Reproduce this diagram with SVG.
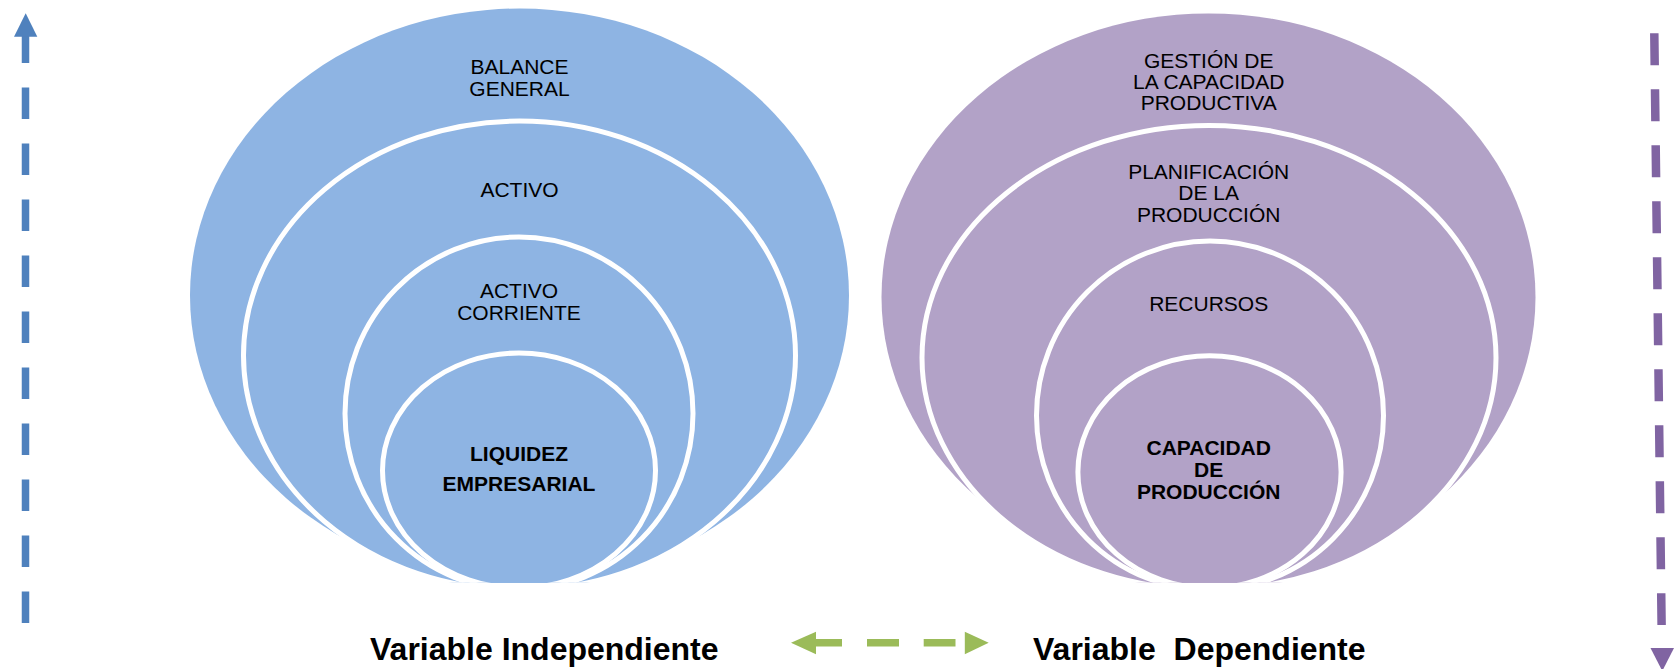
<svg xmlns="http://www.w3.org/2000/svg" width="1674" height="669" viewBox="0 0 1674 669">
<defs>
  <clipPath id="cut"><rect x="0" y="0" width="1674" height="582.7"/></clipPath>
</defs>
<style>
.t{font-family:"Liberation Sans",Arial,sans-serif;font-size:21px;fill:#000;text-anchor:middle}
.b{font-weight:bold}
.lbl{font-family:"Liberation Sans",Arial,sans-serif;font-size:32px;font-weight:bold;fill:#000;white-space:pre}
.blue{fill:#8EB4E3}
.purp{fill:#B2A2C7}
.inner{stroke:#FFFFFF;stroke-width:5}
</style>
<rect width="1674" height="669" fill="#FFFFFF"/>
<g id="independiente">
  <g id="balance-general">
    <ellipse class="blue" cx="519.5" cy="295.5" rx="329.5" ry="287" clip-path="url(#cut)"/>
    <text class="t" x="519.5" y="73.7">BALANCE</text>
    <text class="t" x="519.5" y="95.5">GENERAL</text>
  </g>
  <g id="activo">
    <ellipse class="blue inner" cx="519.5" cy="355.5" rx="276" ry="234.5" clip-path="url(#cut)"/>
    <text class="t" x="519.5" y="196.7">ACTIVO</text>
  </g>
  <g id="activo-corriente">
    <ellipse class="blue inner" cx="519" cy="413.5" rx="174" ry="176.5" clip-path="url(#cut)"/>
    <text class="t" x="519" y="298">ACTIVO</text>
    <text class="t" x="519" y="319.7">CORRIENTE</text>
  </g>
  <g id="liquidez">
    <ellipse class="blue inner" cx="519" cy="470.5" rx="136.5" ry="117.5" clip-path="url(#cut)"/>
    <text class="t b" x="519" y="461">LIQUIDEZ</text>
    <text class="t b" x="519" y="491">EMPRESARIAL</text>
  </g>
</g>
<g id="dependiente">
  <g id="gestion">
    <ellipse class="purp" cx="1208.5" cy="297" rx="327" ry="283.6" clip-path="url(#cut)"/>
    <text class="t" x="1208.7" y="67.6">GESTIÓN DE</text>
    <text class="t" x="1208.7" y="88.6">LA CAPACIDAD</text>
    <text class="t" x="1208.7" y="110">PRODUCTIVA</text>
  </g>
  <g id="planificacion">
    <ellipse class="purp inner" cx="1209" cy="357.7" rx="287" ry="232.3" clip-path="url(#cut)"/>
    <text class="t" x="1208.7" y="178.8">PLANIFICACIÓN</text>
    <text class="t" x="1208.7" y="200">DE LA</text>
    <text class="t" x="1208.7" y="222">PRODUCCIÓN</text>
  </g>
  <g id="recursos">
    <ellipse class="purp inner" cx="1210" cy="415.5" rx="173.5" ry="174.5" clip-path="url(#cut)"/>
    <text class="t" x="1208.7" y="311">RECURSOS</text>
  </g>
  <g id="capacidad">
    <ellipse class="purp inner" cx="1209.5" cy="471.9" rx="131.6" ry="116.1" clip-path="url(#cut)"/>
    <text class="t b" x="1208.7" y="455.4">CAPACIDAD</text>
    <text class="t b" x="1208.7" y="476.7">DE</text>
    <text class="t b" x="1208.7" y="498.5">PRODUCCIÓN</text>
  </g>
</g>
<g id="connectors">
  <path d="M25.5 623 V31" stroke="#4F81BD" stroke-width="7.5" stroke-dasharray="31.5 24.5" fill="none"/>
  <polygon points="14,36.7 37.3,36.7 25.7,13.3" fill="#4F81BD"/>
  <path d="M1654.3 33.3 L1661.6 625" stroke="#8064A2" stroke-width="8.5" stroke-dasharray="32 24" fill="none"/>
  <polygon points="1650.5,648 1674,648 1662.3,671" fill="#8064A2"/>
  <path d="M816 642.7 H842 M867 642.7 H899 M923.7 642.7 H955.5" stroke="#9BBB59" stroke-width="7.5" fill="none"/>
  <polygon points="791,642.7 816,631.7 816,654.3" fill="#9BBB59"/>
  <polygon points="988.7,642.7 964.8,631.7 964.8,654.3" fill="#9BBB59"/>
</g>
<g id="labels">
  <text class="lbl" x="370" y="660">Variable Independiente</text>
  <text class="lbl" x="1033" y="660">Variable  Dependiente</text>
</g>
</svg>
